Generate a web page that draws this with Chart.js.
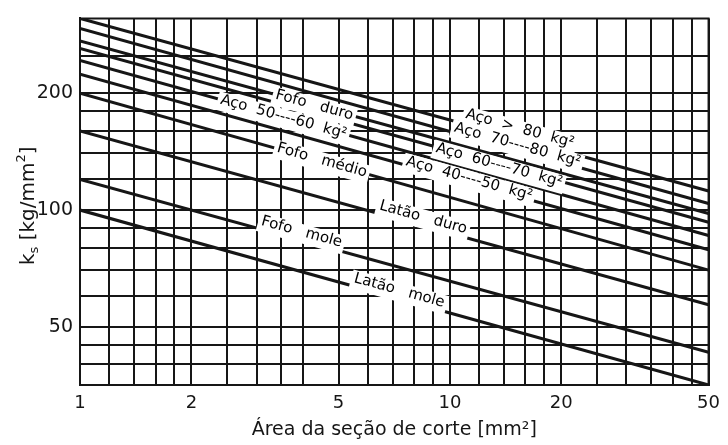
<!DOCTYPE html>
<html lang="pt">
<head>
<meta charset="utf-8">
<title>Pressão específica de corte k_s</title>
<script src="https://cdn.jsdelivr.net/npm/chart.js@4.4.1/dist/chart.umd.min.js"></script>
<style>
  html, body { margin: 0; padding: 0; background: #fff; }
  #wrap { width: 728px; height: 445px; }
</style>
</head>
<body>
<div id="wrap"><canvas id="c" width="728" height="445"></canvas></div>
<script>
// Cross-section area (mm²) at the two ends of every line
const areaEnds = [1, 50];

// Specific cutting force k_s (kg/mm²) at A = 1 mm² and A = 50 mm²
const ksAcoAcima80 = [312, 112];
const ksAco70a80   = [294, 104];
const ksFofoDuro   = [273, 98];
const ksAco60a70   = [261, 93];
const ksAco50a60   = [243, 86];
const ksAco40a50   = [224, 79];
const ksFofoMedio  = [200, 70];
const ksLataoDuro  = [160, 57];
const ksFofoMole   = [120, 43];
const ksLataoMole  = [100, 35.4];

const seriesNames = [
  'Aço  >  80  kg²',
  'Aço  70----80  kg²',
  'Fofo   duro',
  'Aço  60----70  kg²',
  'Aço  50----60  kg²',
  'Aço  40----50  kg²',
  'Fofo   médio',
  'Latão   duro',
  'Fofo   mole',
  'Latão   mole'
];
const seriesValues = [
  ksAcoAcima80, ksAco70a80, ksFofoDuro, ksAco60a70, ksAco50a60,
  ksAco40a50, ksFofoMedio, ksLataoDuro, ksFofoMole, ksLataoMole
];

// Grid of the log-log paper and the values that carry a label
const xGridValues  = [1, 1.2, 1.4, 1.6, 1.8, 2, 2.5, 3, 3.5, 4, 5, 6, 7, 8, 9,
                      10, 12, 14, 16, 18, 20, 25, 30, 35, 40, 45, 50];
const xLabelValues = [1, 2, 5, 10, 20, 50];
const yGridValues  = [40, 45, 50, 60, 70, 80, 90, 100, 120, 140, 160, 180, 200, 250];
const yLabelValues = [50, 100, 200];

// Where each line's name sits: area along the line, and a small lift in px
const labelPlacement = [
  { at: 15.2, lift: -10 },
  { at: 15.1, lift: -5 },
  { at: 4.3,  lift: 0 },
  { at: 13.6, lift: 1 },
  { at: 3.55, lift: 0 },
  { at: 11.2, lift: -4 },
  { at: 4.5,  lift: -1 },
  { at: 8.35, lift: -8 },
  { at: 3.92, lift: -8 },
  { at: 7.2,  lift: -8 }
];

const INK = '#161616';
const FONT = '"DejaVu Sans", sans-serif';

const whiteBackground = {
  id: 'whiteBackground',
  beforeDraw(chart) {
    const ctx = chart.ctx;
    ctx.save();
    ctx.fillStyle = '#fff';
    ctx.fillRect(0, 0, chart.width, chart.height);
    ctx.restore();
  }
};

// closes the frame of the plotting area
const frame = {
  id: 'frame',
  afterDraw(chart) {
    const { ctx, chartArea: a } = chart;
    ctx.save();
    ctx.strokeStyle = INK;
    ctx.lineWidth = 2;
    ctx.beginPath();
    ctx.moveTo(a.left, a.top);
    ctx.lineTo(a.right, a.top);
    ctx.lineTo(a.right, a.bottom);
    ctx.stroke();
    ctx.restore();
  }
};

// lettering written along each line, breaking the line where it sits
const lineLabels = {
  id: 'lineLabels',
  afterDatasetsDraw(chart) {
    const { ctx, scales: { x, y } } = chart;
    const l0 = Math.log(areaEnds[0]), l1 = Math.log(areaEnds[1]);
    const items = labelPlacement.map((p, i) => {
      const vals = seriesValues[i];
      const t = (Math.log(p.at) - l0) / (l1 - l0);
      const v = Math.exp(Math.log(vals[0]) + t * (Math.log(vals[1]) - Math.log(vals[0])));
      const ang = Math.atan2(
        y.getPixelForValue(vals[1]) - y.getPixelForValue(vals[0]),
        x.getPixelForValue(areaEnds[1]) - x.getPixelForValue(areaEnds[0]));
      return { px: x.getPixelForValue(p.at), py: y.getPixelForValue(v), ang, lift: p.lift, text: seriesNames[i] };
    });
    ctx.save();
    ctx.font = '15px ' + FONT;
    items.forEach(it => {
      const w = ctx.measureText(it.text).width;
      ctx.save();
      ctx.translate(it.px, it.py);
      ctx.rotate(it.ang);
      ctx.translate(0, it.lift);
      ctx.fillStyle = '#fff';
      ctx.fillRect(-w / 2 - 3, -8, w + 6, 19);
      ctx.restore();
    });
    items.forEach(it => {
      ctx.save();
      ctx.translate(it.px, it.py);
      ctx.rotate(it.ang);
      ctx.translate(0, it.lift);
      ctx.fillStyle = '#000';
      ctx.textAlign = 'center';
      ctx.textBaseline = 'middle';
      ctx.fillText(it.text, 0, 0);
      ctx.restore();
    });
    ctx.restore();
  }
};

// y-axis title with subscript and superscript
const yTitle = {
  id: 'yTitle',
  afterDraw(chart) {
    const { ctx, chartArea: a } = chart;
    const parts = [
      { t: 'k', size: 20, dy: 0 },
      { t: 's', size: 13, dy: 4 },
      { t: ' [kg/mm', size: 20, dy: 0 },
      { t: '2', size: 13, dy: -9 },
      { t: ']', size: 20, dy: 0 }
    ];
    ctx.save();
    let total = 0;
    parts.forEach(p => { ctx.font = p.size + 'px ' + FONT; p.w = ctx.measureText(p.t).width; total += p.w; });
    ctx.translate(34, (a.top + a.bottom) / 2 + 4);
    ctx.rotate(-Math.PI / 2);
    ctx.fillStyle = INK;
    ctx.textBaseline = 'alphabetic';
    ctx.textAlign = 'left';
    let cx = -total / 2;
    parts.forEach(p => {
      ctx.font = p.size + 'px ' + FONT;
      ctx.fillText(p.t, cx, p.dy);
      cx += p.w;
    });
    ctx.restore();
  }
};

const near = (v, list) => list.some(u => Math.abs(u - v) < 1e-6);

new Chart(document.getElementById('c'), {
  type: 'line',
  data: {
    datasets: seriesValues.map((vals, i) => ({
      label: seriesNames[i],
      data: areaEnds.map((a, k) => ({ x: a, y: vals[k] })),
      borderColor: INK,
      borderWidth: 3,
      pointRadius: 0,
      tension: 0,
      fill: false
    }))
  },
  options: {
    responsive: false,
    animation: false,
    layout: { padding: { top: 13, right: 12, left: 0, bottom: 0 } },
    plugins: {
      legend: { display: false },
      tooltip: { enabled: false },
      title: { display: false }
    },
    scales: {
      x: {
        type: 'logarithmic',
        min: 1,
        max: 50,
        afterBuildTicks: s => { s.ticks = xGridValues.map(v => ({ value: v })); },
        afterFit: s => { s.height = 60; },
        ticks: {
          autoSkip: false,
          maxRotation: 0,
          minRotation: 0,
          padding: 8,
          color: INK,
          font: { family: FONT, size: 18 },
          callback: v => near(v, xLabelValues) ? String(v) : ''
        },
        grid: { color: INK, lineWidth: 2, drawTicks: false },
        border: { color: INK, width: 2 },
        title: {
          display: true,
          text: 'Área da seção de corte [mm²]',
          color: INK,
          font: { family: FONT, size: 19 },
          padding: { top: 0, bottom: 4 }
        }
      },
      y: {
        type: 'logarithmic',
        min: 35.4,
        max: 312,
        afterBuildTicks: s => { s.ticks = yGridValues.map(v => ({ value: v })); },
        afterFit: s => { s.width = 80; },
        ticks: {
          autoSkip: false,
          padding: 7,
          color: INK,
          font: { family: FONT, size: 19 },
          callback: v => near(v, yLabelValues) ? String(v) : ''
        },
        grid: { color: INK, lineWidth: 2, drawTicks: false },
        border: { color: INK, width: 2 }
      }
    }
  },
  plugins: [whiteBackground, frame, lineLabels, yTitle]
});
</script>
</body>
</html>
